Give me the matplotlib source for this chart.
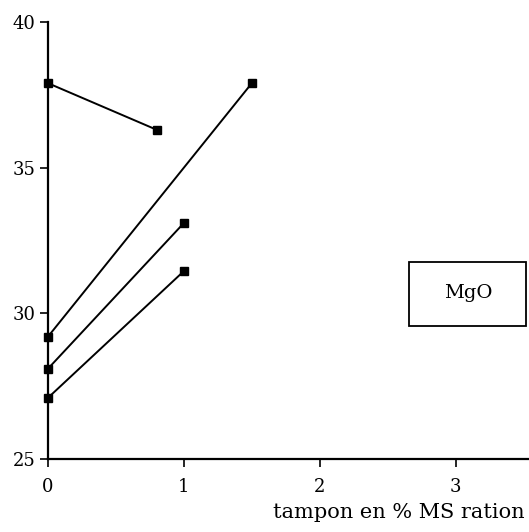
import matplotlib
matplotlib.use("Agg")
import matplotlib.pyplot as plt
from matplotlib.patches import Rectangle

# Data
series_x = [[0, 0.8], [0, 1.5], [0, 1], [0, 1]]
series_y = [[37.9, 36.3], [29.2, 37.9], [28.1, 33.1], [27.1, 31.45]]
x_ticks = [0, 1, 2, 3]
y_ticks = [25, 30, 35, 40]
x_label = "tampon en % MS ration"
box_label = "MgO"

plt.rcParams['font.family'] = ['DejaVu Serif']

fig = plt.figure(figsize=(5.29, 5.32), dpi=100)
ax = fig.add_axes([48/529, 1 - 459/532, 1 - 48/529, (459 - 22)/532])

for xs, ys in zip(series_x, series_y):
    ax.plot(xs, ys, color='black', lw=1.4, marker='s', markersize=6,
            clip_on=False, zorder=3)

ax.set_xlim(0, 3.54)
ax.set_ylim(25, 40)
ax.set_xticks(x_ticks)
ax.set_yticks(y_ticks)
ax.tick_params(axis='both', direction='out', length=6, width=1.2,
               labelsize=13, colors='black')
ax.tick_params(axis='x', pad=8)
ax.tick_params(axis='y', pad=3)
for s in ['top', 'right']:
    ax.spines[s].set_visible(False)
for s in ['left', 'bottom']:
    ax.spines[s].set_linewidth(1.6)

fig.text(525/529, 1 - 512/532, x_label, ha='right', va='center', fontsize=15)

ax.add_patch(Rectangle((2.66, 29.57), 0.86, 2.19, fill=False, ec='black',
                       lw=1.3, clip_on=False, zorder=4))
ax.text(3.09, 30.7, box_label, ha='center', va='center', fontsize=14)

fig.savefig("out.png", dpi=100)
